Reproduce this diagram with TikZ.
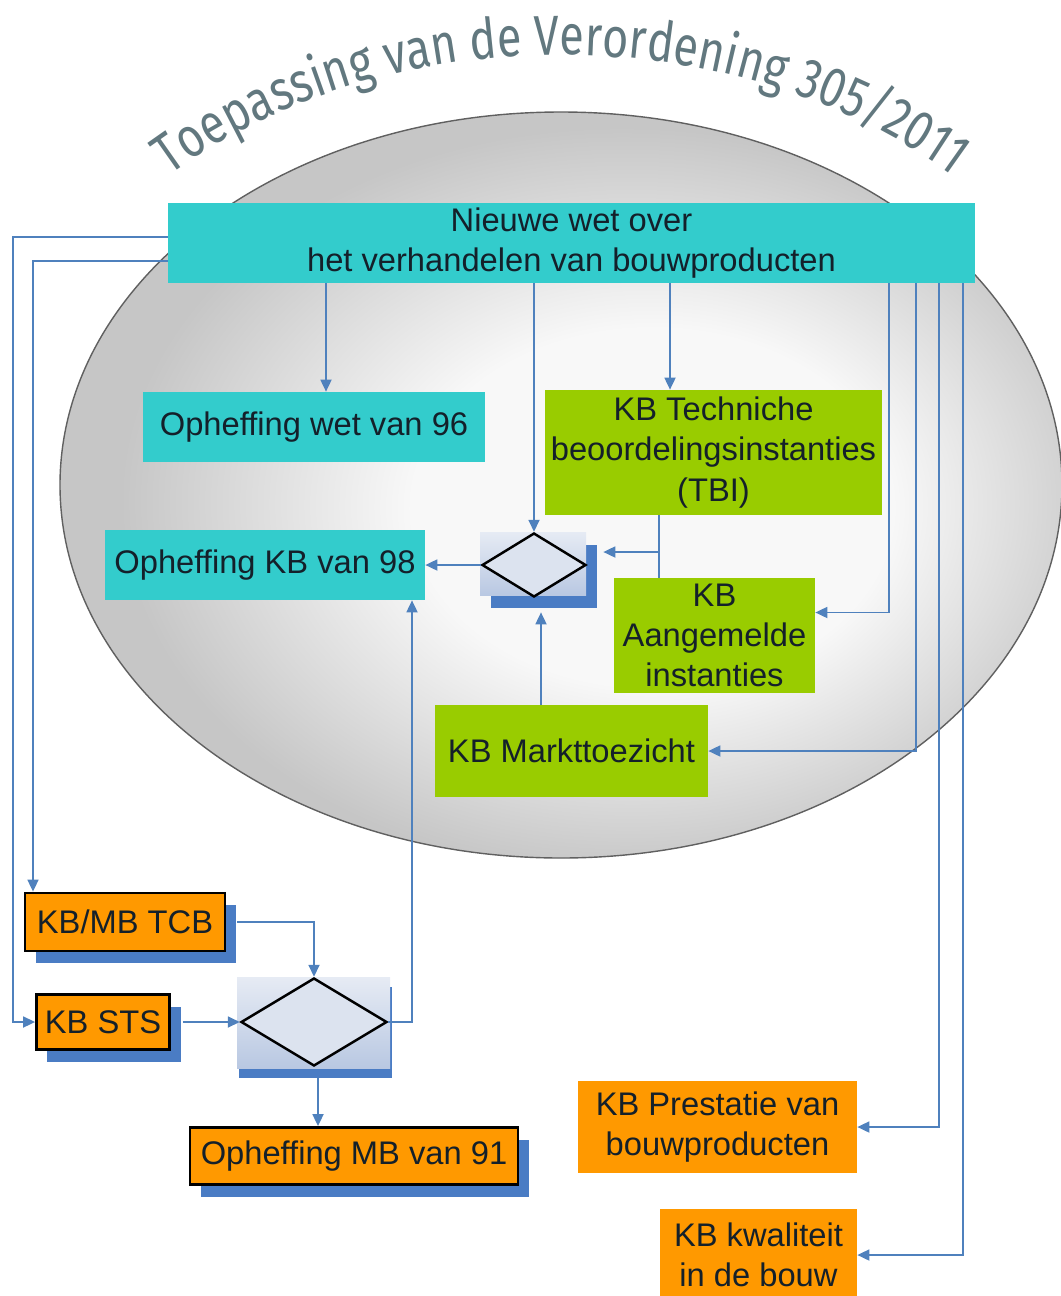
\documentclass[tikz,border=0pt]{standalone}
\usepackage{fontspec}
\setmainfont{Liberation Sans}
\newfontfamily\titelfont[FakeStretch=0.8]{Fira Sans}
\usetikzlibrary{shapes.geometric,arrows.meta,calc,shadows,decorations.text}

\definecolor{turkoois}{HTML}{33CCCC}
\definecolor{groen}{HTML}{99CC00}
\definecolor{oranje}{HTML}{FF9900}
\definecolor{lijnblauw}{HTML}{4F81BD}
\definecolor{schaduw}{HTML}{4A7CC4}
\definecolor{titelgrijs}{HTML}{62787F}
\definecolor{tekst}{HTML}{14202A}
\definecolor{ruitlicht}{HTML}{E6EBF4}
\definecolor{ruitdonker}{HTML}{B9C8E2}
\definecolor{ruitvulling}{HTML}{DCE3EF}
\definecolor{bolin}{HTML}{F8F8F8}
\definecolor{bolrand}{HTML}{C6C6C6}
\pgfdeclareradialshading{bol}{\pgfpoint{6bp}{-2bp}}{color(0bp)=(bolin); color(12bp)=(bolin); color(25bp)=(bolrand); color(50bp)=(bolrand)}

\begin{document}
\begin{tikzpicture}[x=0.2mm,y=-0.2mm]
 % de stijlen
  \tikzstyle{blok}=[rectangle,inner sep=0pt,align=center,text=tekst,font=\fontsize{18.6}{22.8}\selectfont]
  \tikzstyle{cyaan}=[blok,fill=turkoois]
  \tikzstyle{groen}=[blok,fill=groen]
  \tikzstyle{oranje}=[blok,fill=oranje]
  \tikzstyle{kader}=[oranje,draw=black,line width=1.6pt,drop shadow={shadow xshift=2.2mm,shadow yshift=-2.4mm,fill=schaduw,opacity=1}]
  \tikzstyle{ruitbg}=[rectangle,inner sep=0pt,top color=ruitlicht,bottom color=ruitdonker]
  \tikzstyle{ruit}=[diamond,inner sep=0pt,draw=black,line width=1.4pt,fill=ruitvulling]
  \tikzstyle{lijn}=[draw=lijnblauw,line width=1pt]
  \tikzstyle{pijl}=[lijn,->,>={Triangle[length=2.4mm,width=2.2mm]}]
  \useasboundingbox (0,0) rectangle (1060,1296);
 % de ellips en de titel
  \path[draw=gray!75!black,line width=0.8pt,shading=bol] (561,485) ellipse [x radius=501, y radius=373];
  \path[decorate,decoration={text along path,text align=center,
    text={|\titelfont\fontsize{32}{38}\selectfont\color{titelgrijs}|Toepassing van de Verordening 305/2011}}]
    (561,487) ++(218:565 and 432) arc[start angle=218,end angle=322,x radius=565,y radius=432];
 % de blokken
  \node[cyaan,minimum width=161.4mm,minimum height=16mm] (wet) at (571.5,243) {Nieuwe wet over\\het verhandelen van bouwproducten};
  \node[cyaan,minimum width=68.4mm,minimum height=14mm] (wet96) at (314,427) {Opheffing wet van 96};
  \node[cyaan,minimum width=64mm,minimum height=14mm] (kb98) at (265,565) {Opheffing KB van 98};
  \node[groen,minimum width=67.4mm,minimum height=25mm] (tbi) at (713.5,452.5) {KB Techniche\\beoordelingsinstanties\\(TBI)};
  \node[groen,minimum width=40.2mm,minimum height=23mm] (aangem) at (714.5,635.5) {KB\\Aangemelde\\instanties};
  \node[groen,minimum width=54.6mm,minimum height=18.4mm] (markt) at (571.5,751) {KB Markttoezicht};
  \node[kader,minimum width=40mm,minimum height=11.6mm] (tcb) at (125,922) {KB/MB TCB};
  \node[kader,minimum width=26.6mm,minimum height=11mm] (sts) at (103,1022) {KB STS};
  \node[kader,minimum width=65.6mm,minimum height=11.4mm] (mb91) at (354,1156) {Opheffing MB van 91};
  \node[oranje,minimum width=55.8mm,minimum height=18.4mm] (prest) at (717.5,1127) {KB Prestatie van\\bouwproducten};
  \node[oranje,minimum width=39.4mm,minimum height=18.4mm] (kwal) at (758.5,1255) {KB kwaliteit\\in de bouw};
 % de beslissingen
  \node[ruitbg,minimum width=21.2mm,minimum height=12.6mm,drop shadow={shadow xshift=2.2mm,shadow yshift=-2.6mm,fill=schaduw,opacity=1}] (d1bg) at (533,563.5) {};
  \node[ruit,minimum width=20.8mm,minimum height=12.8mm] (d1) at (534,565) {};
  \node[ruitbg,minimum width=30.6mm,minimum height=18.2mm,drop shadow={shadow xshift=0.4mm,shadow yshift=-2mm,fill=schaduw,opacity=1}] (d2bg) at (313.5,1022.5) {};
  \node[ruit,minimum width=29.2mm,minimum height=17.6mm] (d2) at (314,1022) {};
 % de banen van de pijlen
  \coordinate (b1) at (13,237);
  \coordinate (b2) at (33,261);
  \coordinate (b3) at (326,0);
  \coordinate (b4) at (670,0);
  \coordinate (b5) at (889,0);
  \coordinate (b6) at (916,0);
  \coordinate (b7) at (939,0);
  \coordinate (b8) at (963,0);
  \coordinate (b9) at (412,0);
  \coordinate (b10) at (541,0);
  \coordinate (b11) at (318,0);
  \coordinate (knoop) at (659,552);
 % de pijlen
  \draw[pijl] (wet.west |- b1) -- (b1) |- (sts.west);
  \draw[pijl] (wet.west |- b2) -- (b2) -- (b2 |- tcb.north);
  \draw[pijl] (wet.south -| b3) -- (wet96.north -| b3);
  \draw[pijl] (wet.south -| d1.north) -- (d1.north);
  \draw[pijl] (wet.south -| b4) -- (tbi.north -| b4);
  \draw[pijl] (wet.south -| b5) |- ($(aangem.east)+(0,-23)$);
  \draw[pijl] (wet.south -| b6) |- (markt.east);
  \draw[pijl] (wet.south -| b7) |- (prest.east);
  \draw[pijl] (wet.south -| b8) |- (kwal.east);
  \draw[lijn] (tbi.south -| knoop) -- (aangem.north -| knoop);
  \draw[pijl] (knoop) -- ($(d1bg.east |- knoop)+(17,0)$);
  \draw[pijl] (markt.north -| b10) -- ($(d1bg.south -| b10)+(0,17)$);
  \draw[pijl] (d1.west) -- (kb98.east);
  \draw[pijl] (d2.east) -| (kb98.south -| b9);
  \draw[pijl] ($(tcb.east)+(11,0)$) -| (d2.north);
  \draw[pijl] ($(sts.east)+(12,0)$) -- (d2.west);
  \draw[pijl] ($(d2bg.south -| b11)+(0,10)$) -- (mb91.north -| b11);
\end{tikzpicture}
\end{document}
